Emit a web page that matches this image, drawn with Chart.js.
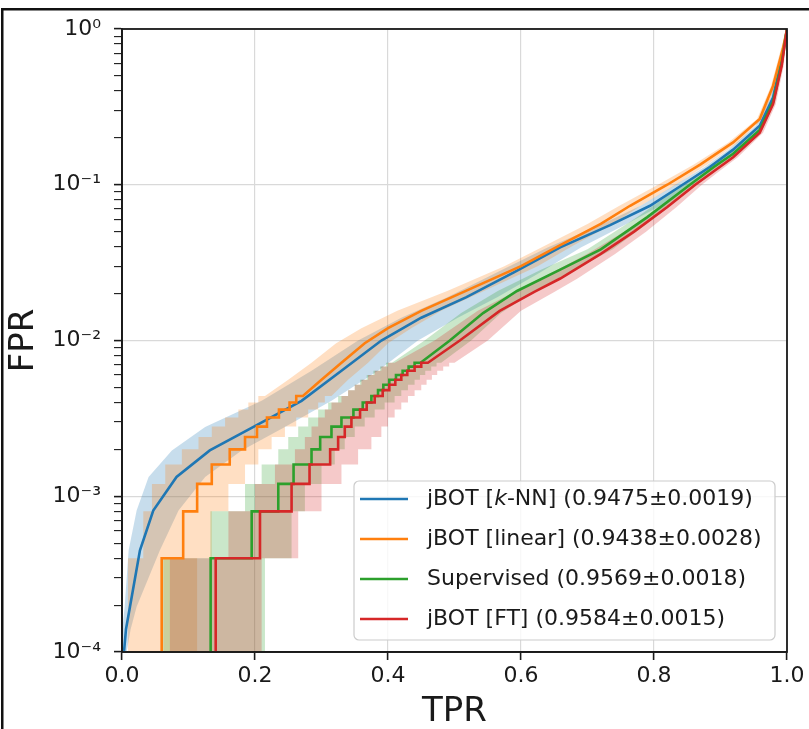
<!DOCTYPE html>
<html>
<head>
<meta charset="utf-8">
<script src="https://cdn.jsdelivr.net/npm/chart.js@4.4.0/dist/chart.umd.min.js"></script>
<style>
  html, body { margin: 0; padding: 0; background: #fff; }
  canvas { display: block; }
</style>
</head>
<body>
<canvas id="roc" width="809" height="729"></canvas>
<script>
// ---- data ----
// each curve: TPR at a given FPR level; Lo/Hi = shaded band in TPR direction
// the first *Steps points of a curve are drawn as a staircase (FPR quantised)

const knnFpr = [6e-5, 1.0e-4, 1.4e-4, 1.95e-4, 4.5e-4, 8.1e-4, 1.33e-3, 1.97e-3, 2.78e-3, 4.1e-3, 6.4e-3, 1.0e-2, 1.4e-2, 1.9e-2, 2.75e-2, 3.96e-2, 5.5e-2, 7.33e-2, 0.1, 0.13, 0.168, 0.239, 0.363, 0.64, 1.0];
const knnTpr = [0.001, 0.003, 0.006, 0.012, 0.027, 0.047, 0.082, 0.132, 0.197, 0.27, 0.33, 0.39, 0.45, 0.518, 0.59, 0.659, 0.734, 0.794, 0.843, 0.884, 0.919, 0.959, 0.979, 0.992, 1.0];
const knnLo  = [0.0, 0.0, 0.001, 0.004, 0.010, 0.022, 0.04, 0.075, 0.125, 0.21, 0.285, 0.355, 0.42, 0.49, 0.565, 0.64, 0.718, 0.78, 0.832, 0.876, 0.912, 0.953, 0.975, 0.99, 1.0];
const knnHi  = [0.004, 0.007, 0.013, 0.022, 0.057, 0.085, 0.125, 0.18, 0.245, 0.315, 0.385, 0.445, 0.505, 0.565, 0.63, 0.69, 0.755, 0.81, 0.853, 0.892, 0.926, 0.964, 0.983, 0.994, 1.0];
const knnSteps = 0;

const linFpr = [1e-6, 4e-4, 8e-4, 1.2e-3, 1.6e-3, 2.0e-3, 2.4e-3, 2.8e-3, 3.2e-3, 3.6e-3, 4.0e-3, 4.4e-3, 5.6e-3, 7.2e-3, 9.6e-3, 1.2e-2, 1.55e-2, 2.09e-2, 3.0e-2, 4.1e-2, 5.6e-2, 7.33e-2, 0.1, 0.135, 0.187, 0.264, 0.431, 0.75, 1.0];
const linTpr = [0.0597, 0.092, 0.113, 0.135, 0.162, 0.185, 0.203, 0.218, 0.236, 0.252, 0.262, 0.272, 0.30, 0.33, 0.365, 0.40, 0.45, 0.518, 0.60, 0.659, 0.72, 0.764, 0.82, 0.87, 0.919, 0.959, 0.979, 0.994, 1.0];
const linLo  = [0.009, 0.032, 0.045, 0.065, 0.09, 0.115, 0.135, 0.155, 0.175, 0.19, 0.205, 0.215, 0.25, 0.285, 0.322, 0.36, 0.414, 0.49, 0.575, 0.638, 0.70, 0.748, 0.806, 0.86, 0.912, 0.955, 0.976, 0.991, 1.0];
const linHi  = [0.113, 0.135, 0.16, 0.185, 0.205, 0.225, 0.245, 0.262, 0.28, 0.295, 0.305, 0.315, 0.34, 0.37, 0.40, 0.435, 0.48, 0.545, 0.625, 0.68, 0.738, 0.78, 0.833, 0.88, 0.926, 0.963, 0.982, 0.996, 1.0];
const linSteps = 12;

const supFpr = [1e-6, 4e-4, 8e-4, 1.2e-3, 1.6e-3, 2.0e-3, 2.4e-3, 2.8e-3, 3.2e-3, 3.6e-3, 4.0e-3, 4.4e-3, 4.8e-3, 5.2e-3, 5.6e-3, 6.0e-3, 6.4e-3, 6.8e-3, 7.2e-3, 1.0e-2, 1.5e-2, 2.08e-2, 2.85e-2, 3.85e-2, 6.2e-2, 0.1, 0.13, 0.158, 0.225, 0.34, 0.6, 1.0];
const supTpr = [0.1333, 0.195, 0.235, 0.258, 0.285, 0.298, 0.315, 0.330, 0.348, 0.362, 0.375, 0.385, 0.393, 0.402, 0.412, 0.422, 0.431, 0.44, 0.449, 0.493, 0.543, 0.594, 0.659, 0.72, 0.79, 0.854, 0.89, 0.919, 0.959, 0.979, 0.992, 1.0];
const supLo  = [0.062, 0.133, 0.185, 0.21, 0.235, 0.25, 0.265, 0.28, 0.295, 0.31, 0.325, 0.34, 0.35, 0.358, 0.368, 0.378, 0.388, 0.397, 0.406, 0.455, 0.51, 0.565, 0.63, 0.70, 0.775, 0.843, 0.88, 0.911, 0.954, 0.976, 0.99, 1.0];
const supHi  = [0.215, 0.255, 0.275, 0.30, 0.32, 0.335, 0.35, 0.365, 0.38, 0.395, 0.41, 0.42, 0.43, 0.44, 0.448, 0.456, 0.465, 0.473, 0.48, 0.525, 0.57, 0.62, 0.68, 0.738, 0.803, 0.864, 0.898, 0.926, 0.963, 0.982, 0.994, 1.0];
const supSteps = 19;

const ftFpr = [1e-6, 4e-4, 8e-4, 1.2e-3, 1.6e-3, 2.0e-3, 2.4e-3, 2.8e-3, 3.2e-3, 3.6e-3, 4.0e-3, 4.4e-3, 4.8e-3, 5.2e-3, 5.6e-3, 6.0e-3, 6.4e-3, 6.8e-3, 7.2e-3, 1.0e-2, 1.55e-2, 2.05e-2, 2.5e-2, 3.6e-2, 5.0e-2, 7.2e-2, 0.1, 0.122, 0.15, 0.216, 0.329, 0.58, 1.0];
const ftTpr = [0.1409, 0.2075, 0.255, 0.282, 0.313, 0.325, 0.335, 0.345, 0.358, 0.368, 0.380, 0.392, 0.402, 0.411, 0.42, 0.429, 0.44, 0.45, 0.46, 0.508, 0.568, 0.62, 0.659, 0.72, 0.77, 0.82, 0.862, 0.89, 0.919, 0.959, 0.979, 0.992, 1.0];
const ftLo  = [0.072, 0.16, 0.2, 0.23, 0.26, 0.275, 0.285, 0.295, 0.305, 0.315, 0.33, 0.34, 0.35, 0.36, 0.37, 0.38, 0.39, 0.40, 0.41, 0.47, 0.535, 0.59, 0.63, 0.70, 0.755, 0.808, 0.852, 0.882, 0.912, 0.954, 0.976, 0.99, 1.0];
const ftHi  = [0.21, 0.265, 0.30, 0.33, 0.355, 0.375, 0.39, 0.40, 0.41, 0.42, 0.43, 0.44, 0.45, 0.458, 0.466, 0.474, 0.483, 0.492, 0.50, 0.55, 0.60, 0.65, 0.685, 0.742, 0.788, 0.834, 0.872, 0.898, 0.926, 0.964, 0.983, 0.995, 1.0];
const ftSteps = 19;

const legendNames  = ['jBOT [*k*-NN]', 'jBOT [linear]', 'Supervised', 'jBOT [FT]'];
const legendScores = ['0.9475±0.0019', '0.9438±0.0028', '0.9569±0.0018', '0.9584±0.0015'];

const xTicks = [0, 0.2, 0.4, 0.6, 0.8, 1.0];
const yMajor = [1e-4, 1e-3, 1e-2, 1e-1, 1];
const yMajorLabels = ['10⁻⁴', '10⁻³', '10⁻²', '10⁻¹', '10⁰'];
const yMinorFactors = [2, 3, 4, 5, 6, 7, 8, 9];

// ---- styling ----
const FONT = 'DejaVu Sans';
const colors = ['#1f77b4', '#ff7f0e', '#2ca02c', '#d62728'];
const bandAlpha = 0.25;
const gridColor = '#d9d9d9';
const inkColor = '#1a1a1a';

// staircase: vertical at previous TPR up to the new FPR, then across
function corners(tpr, fpr, steps) {
  const pts = [{ x: tpr[0], y: fpr[0] }];
  for (let i = 1; i < tpr.length; i++) {
    if (i < steps) pts.push({ x: tpr[i - 1], y: fpr[i] });
    pts.push({ x: tpr[i], y: fpr[i] });
  }
  return pts;
}

function rgba(hex, a) {
  const n = parseInt(hex.slice(1), 16);
  return `rgba(${(n >> 16) & 255}, ${(n >> 8) & 255}, ${n & 255}, ${a})`;
}

// bands all go underneath, lines on top (higher order = drawn first)
function band(lo, hi, fpr, steps, color, order) {
  return {
    data: corners(lo, fpr, steps).concat(corners(hi, fpr, steps).reverse()),
    fill: 'shape',
    backgroundColor: rgba(color, bandAlpha),
    borderColor: 'rgba(0,0,0,0)',
    borderWidth: 0,
    pointRadius: 0,
    order,
  };
}

function curve(tpr, fpr, steps, color, order) {
  return {
    data: corners(tpr, fpr, steps),
    fill: false,
    borderColor: color,
    borderWidth: 2.6,
    pointRadius: 0,
    order,
  };
}

const datasets = [
  band(knnLo, knnHi, knnFpr, knnSteps, colors[0], 8),
  band(linLo, linHi, linFpr, linSteps, colors[1], 7),
  band(supLo, supHi, supFpr, supSteps, colors[2], 6),
  band(ftLo, ftHi, ftFpr, ftSteps, colors[3], 5),
  curve(knnTpr, knnFpr, knnSteps, colors[0], 4),
  curve(linTpr, linFpr, linSteps, colors[1], 3),
  curve(supTpr, supFpr, supSteps, colors[2], 2),
  curve(ftTpr, ftFpr, ftSteps, colors[3], 1),
];

const yTicks = [];
yMajor.forEach((d, i) => {
  yTicks.push(d);
  if (i < yMajor.length - 1) yMinorFactors.forEach((m) => yTicks.push(m * d));
});
const isMajor = (v) => yMajor.indexOf(v) >= 0;

// spines on top of data + the outer picture frame
const framePlugin = {
  id: 'frame',
  afterDatasetsDraw(chart) {
    const { ctx, chartArea: a } = chart;
    ctx.save();
    ctx.strokeStyle = inkColor;
    ctx.lineWidth = 1.8;
    ctx.strokeRect(a.left, a.top, a.right - a.left, a.bottom - a.top);
    ctx.restore();
  },
  afterDraw(chart) {
    const ctx = chart.ctx;
    ctx.save();
    ctx.fillStyle = '#111';
    ctx.fillRect(1, 8, chart.width - 1, 2.5);
    ctx.fillRect(1, 8, 2.5, chart.height - 8);
    ctx.restore();
  },
};

const legendPlugin = {
  id: 'boxLegend',
  afterDraw(chart) {
    const ctx = chart.ctx;
    const bx = 354, by = 481, bw = 421, bh = 159, r = 5;
    ctx.save();
    ctx.beginPath();
    ctx.moveTo(bx + r, by);
    ctx.arcTo(bx + bw, by, bx + bw, by + bh, r);
    ctx.arcTo(bx + bw, by + bh, bx, by + bh, r);
    ctx.arcTo(bx, by + bh, bx, by, r);
    ctx.arcTo(bx, by, bx + bw, by, r);
    ctx.closePath();
    ctx.fillStyle = 'rgba(255,255,255,0.8)';
    ctx.fill();
    ctx.strokeStyle = '#cccccc';
    ctx.lineWidth = 1.2;
    ctx.stroke();

    ctx.textBaseline = 'middle';
    ctx.fillStyle = inkColor;
    legendNames.forEach((name, i) => {
      const y = 499 + i * 40;
      ctx.strokeStyle = colors[i];
      ctx.lineWidth = 2.6;
      ctx.beginPath();
      ctx.moveTo(360, y);
      ctx.lineTo(408, y);
      ctx.stroke();
      let x = 427;
      (name + ' (' + legendScores[i] + ')').split('*').forEach((part, k) => {
        ctx.font = (k % 2 ? 'italic ' : '') + '22px "' + FONT + '"';
        ctx.fillText(part, x, y);
        x += ctx.measureText(part).width;
      });
    });
    ctx.restore();
  },
};

Chart.defaults.font.family = FONT;

new Chart(document.getElementById('roc'), {
  type: 'line',
  data: { datasets },
  options: {
    responsive: false,
    devicePixelRatio: 1,
    animation: false,
    layout: { padding: { top: 29, right: 22, left: 0, bottom: 0 } },
    plugins: { legend: { display: false }, tooltip: { enabled: false } },
    elements: { line: { tension: 0 } },
    scales: {
      x: {
        type: 'linear',
        min: 0,
        max: 1,
        afterBuildTicks: (s) => { s.ticks = xTicks.map((v) => ({ value: v })); },
        afterFit: (s) => { s.height = 77; },
        ticks: {
          autoSkip: false,
          maxRotation: 0,
          padding: 3,
          color: inkColor,
          font: { size: 22 },
          callback: (v) => Number(v).toFixed(1),
        },
        grid: { color: gridColor, lineWidth: 1.2, tickColor: inkColor, tickLength: 8, tickWidth: 1.6 },
        border: { color: inkColor, width: 1.8 },
        title: {
          display: true,
          text: 'TPR',
          color: inkColor,
          font: { size: 34, lineHeight: 1 },
          padding: { top: 0, bottom: 0 },
        },
      },
      y: {
        type: 'logarithmic',
        min: 1e-4,
        max: 1,
        afterBuildTicks: (s) => { s.ticks = yTicks.map((v) => ({ value: v, major: isMajor(v) })); },
        afterFit: (s) => { s.width = 122; },
        ticks: {
          autoSkip: false,
          padding: 13,
          color: inkColor,
          font: { size: 22 },
          callback: (v) => {
            const i = yMajor.indexOf(v);
            return i >= 0 ? yMajorLabels[i] : '';
          },
        },
        grid: {
          color: (c) => (c.tick && isMajor(c.tick.value) ? gridColor : 'rgba(0,0,0,0)'),
          lineWidth: 1.2,
          tickColor: inkColor,
          tickLength: 8,
          tickWidth: (c) => (c.tick && isMajor(c.tick.value) ? 1.6 : 1.1),
        },
        border: { color: inkColor, width: 1.8 },
        title: {
          display: true,
          text: 'FPR',
          color: inkColor,
          font: { size: 34, lineHeight: 1 },
          padding: { top: 7, bottom: 0 },
        },
      },
    },
  },
  plugins: [framePlugin, legendPlugin],
});
</script>
</body>
</html>
